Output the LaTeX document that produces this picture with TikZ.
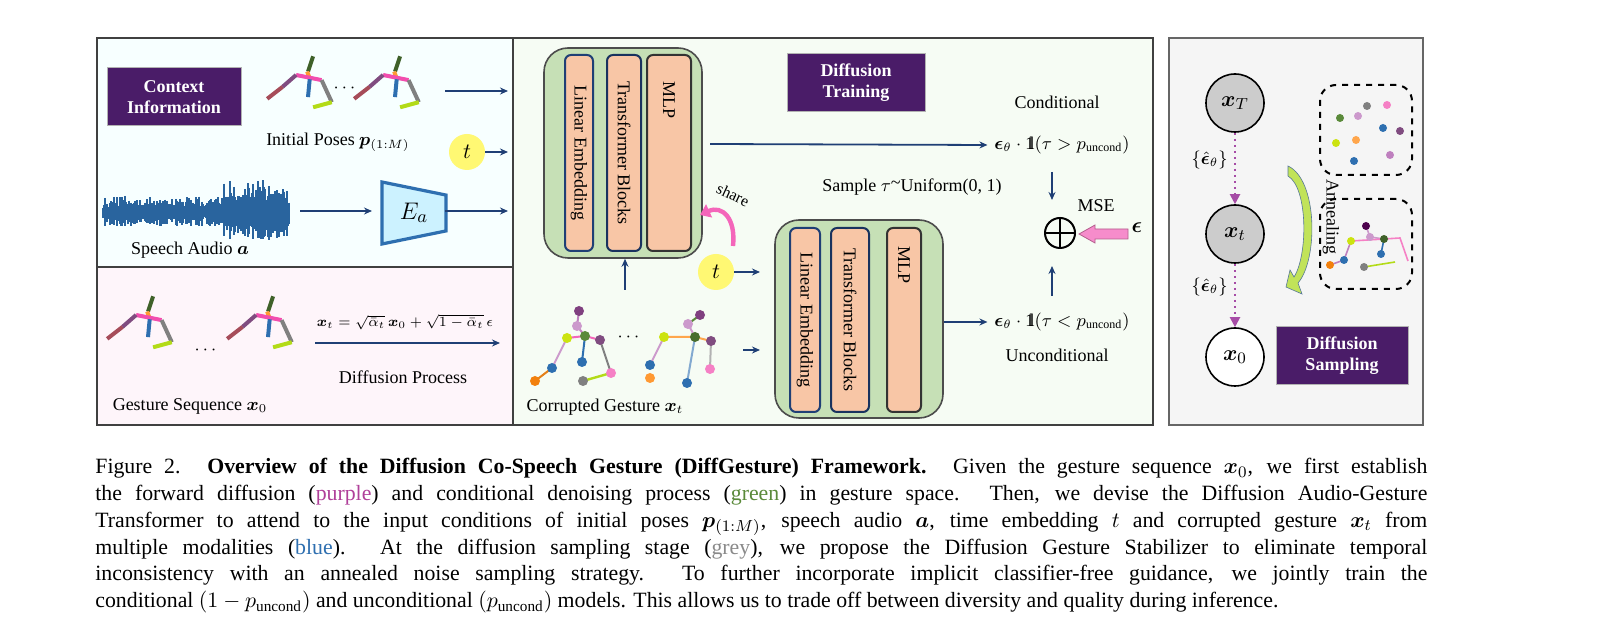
\documentclass[tikz,border=0pt]{standalone}
\usepackage{amsmath,amssymb,bm}
\usepackage{fontspec}
\setmainfont{Liberation Serif}
\usetikzlibrary{arrows.meta,shapes.geometric}
\newcommand{\myind}{\mathrm{1}\mkern-4.5mu\mathrm{l}}
\definecolor{ctxpurple}{HTML}{4A1C68}
\definecolor{salmon}{HTML}{F8C6A6}
\definecolor{blkgreen}{HTML}{C6E0B6}
\definecolor{navy}{HTML}{1F3F75}
\definecolor{cpurple}{HTML}{B0409A}
\definecolor{cgreen}{HTML}{5A8A3A}
\definecolor{cblue}{HTML}{2E6FB0}
\definecolor{cgrey}{HTML}{8A8A8A}
\tikzset{
 f/.style={font=\fontsize{9}{10.5}\selectfont},
 tag/.style={fill=ctxpurple,text=white,font=\fontsize{9}{10.5}\selectfont\bfseries,align=center,draw=gray!60,line width=0.5pt},
 arr/.style={draw=navy,line width=0.9pt,-{Stealth[length=4pt,width=3.5pt]}},
 bar/.style={draw=#1,line width=1pt,fill=salmon,rounded corners=3pt},
 blk/.style={draw=black!70,line width=0.8pt,fill=blkgreen,rounded corners=12pt},
 tcirc/.style={circle,fill=yellow!55,minimum size=18pt,inner sep=0pt,font=\fontsize{11}{12}\selectfont},
 xn/.style={circle,draw=black,line width=0.8pt,minimum size=29pt,inner sep=0pt,font=\fontsize{11}{12}\selectfont},
 sk/.style={line width=2pt},
 dot/.style={circle,fill=#1,inner sep=0pt,minimum size=5pt},
}
\newcommand{\mypose}[2]{%
 \begin{scope}[shift={(#1,#2)},scale=0.85]
  \draw[sk,cgreen!70!black] (0,-4)--(6,-22);
  \draw[sk,orange!80] (-1,-4)--(2,4);
  \draw[sk,magenta!70] (-14,0)--(16,6);
  \draw[sk,violet!40!gray] (-14,0)--(-30,14);
  \draw[sk,brown!60!violet] (-30,14)--(-48,28);
  \draw[sk,cblue] (2,5)--(0,26);
  \draw[sk,gray] (16,6)--(28,32);
  \draw[sk,yellow!70!green] (28,32)--(6,38);
 \end{scope}}
\begin{document}
\begin{tikzpicture}[x=0.5pt,y=-0.5pt]
\useasboundingbox (0,0) rectangle (1618,640);
\fill[white] (0,0) rectangle (1618,640);
% panels
\filldraw[fill=blue!5!cyan!3!white,draw=black!75,line width=0.6pt] (97,38) rectangle (513,267);
\filldraw[fill=magenta!4,draw=black!75,line width=0.6pt] (97,267) rectangle (513,425);
\filldraw[fill=yellow!10!green!4,draw=black!75,line width=0.6pt] (513,38) rectangle (1153,425);
\filldraw[fill=black!4,draw=black!60,line width=0.6pt] (1169,38) rectangle (1423,425);
% context
\node[tag,minimum width=67pt,minimum height=29pt] (ctx) at (174,97) {Context\\Information};
\mypose{308}{75}
\node[f] (dots1) at (346,88) {$\cdots$};
\mypose{395}{75}
\node[f] (ip) at (338,142) {Initial Poses $\bm{p}_{(1:M)}$};
\node[tcirc] (t1) at (467,152) {$t$};
\coordinate (a1s) at (445,91); \coordinate (a1e) at (508,91);
\draw[arr] (a1s)--(a1e);
\coordinate (a2e) at (508,152);
\draw[arr] (t1)--(a2e);
% waveform
\pgfmathsetseed{7}
\foreach \i in {0,...,186}{
 \pgfmathsetmacro{\xx}{103+\i}
 \pgfmathsetmacro{\env}{(\i>120)?(14+22*rnd):(6+12*rnd)}
 \pgfmathsetmacro{\up}{\env*(0.5+0.5*rnd)}
 \draw[cblue!90!black,line width=0.6pt] (\xx,212-\up) -- (\xx,212+\env*0.8);
}
\node[f] (sa) at (190,250) {Speech Audio $\bm{a}$};
\node[draw=cblue,line width=1.6pt,fill=blue!25!cyan!20!white,trapezium,shape border rotate=270,trapezium angle=70,minimum width=31pt,minimum height=32pt,trapezium stretches=true] (ea) at (414,213) {};
\node[font=\fontsize{13}{14}\selectfont] at (414,213) {$E_a$};
\coordinate (a3s) at (300,211); \coordinate (a3e) at (372,211);
\draw[arr] (a3s)--(a3e);
\coordinate (a4s) at (445,211); \coordinate (a4e) at (508,211);
\draw[arr] (a4s)--(a4e);
% bottom left
\mypose{148}{315}
\node[f] (dots2) at (207,350) {$\cdots$};
\mypose{268}{315}
\node[font=\fontsize{7.5}{9}\selectfont] (form) at (405,322) {$\bm{x}_t=\sqrt{\bar\alpha_t}\,\bm{x}_0+\sqrt{1-\bar\alpha_t}\,\epsilon$};
\coordinate (dps) at (315,343); \coordinate (dpe) at (500,343);
\draw[arr] (dps)--(dpe);
\node[f] (dp) at (403,377) {Diffusion Process};
\node[f] (gs) at (190,406) {Gesture Sequence $\bm{x}_0$};
% middle: blocks
\node[blk,minimum width=79pt,minimum height=105pt] (b1) at (623,153) {};
\node[bar=navy,minimum width=14pt,minimum height=98pt] (le1) at (579,153) {};
\node[bar=navy!80!black,minimum width=17pt,minimum height=98pt] (tb1) at (624,153) {};
\node[bar=black!80,minimum width=22pt,minimum height=98pt] (mlp1) at (669,153) {};
\node[f,rotate=-90] at (le1) {Linear Embedding};
\node[f,rotate=-90] at (tb1) {Transformer Blocks};
\node[f,rotate=-90] at (669,100) {MLP};
\node[blk,minimum width=84pt,minimum height=99pt] (b2) at (859,319) {};
\node[bar=navy,minimum width=15pt,minimum height=92pt] (le2) at (805,320) {};
\node[bar=navy!80!black,minimum width=19pt,minimum height=92pt] (tb2) at (850,320) {};
\node[bar=black!80,minimum width=17pt,minimum height=92pt] (mlp2) at (904,320) {};
\node[f,rotate=-90] at (le2) {Linear Embedding};
\node[f,rotate=-90] at (tb2) {Transformer Blocks};
\node[f,rotate=-90] at (904,265) {MLP};
\node[tag,minimum width=69pt,minimum height=29pt] (dt) at (856,83) {Diffusion\\Training};
% right of middle
\node[f] (cond) at (1057,102) {Conditional};
\node[f] (ec) at (1062,145) {$\bm{\epsilon}_\theta\cdot\myind(\tau>p_{\mathrm{uncond}})$};
\coordinate (cs) at (710,144);
\draw[arr] (cs)--(ec.west);
\node[f] (samp) at (912,187) {Sample $\tau$\raisebox{0.3ex}{\char`\~}Uniform(0, 1)};
\node[circle,draw=black,line width=1pt,minimum size=15pt,inner sep=0pt] (plus) at (1060,233) {};
\draw[line width=1pt] (plus.north)--(plus.south) (plus.west)--(plus.east);
\coordinate (d1) at (1052,172); \coordinate (d1e) at (1052,200);
\draw[arr] (d1)--(d1e);
\node[f] (mse) at (1096,206) {MSE};
\node[font=\fontsize{11}{12}\selectfont] (eps) at (1137,228) {$\bm{\epsilon}$};
\draw[draw=magenta!60!black!80,fill=magenta!45,line width=0.4pt] (1128,229)--(1095,229)--(1095,225)--(1079,234)--(1095,243)--(1095,239)--(1128,239)--cycle;
\node[f] (eu) at (1062,322) {$\bm{\epsilon}_\theta\cdot\myind(\tau<p_{\mathrm{uncond}})$};
\node[f] (unc) at (1057,355) {Unconditional};
\coordinate (u1) at (1052,296); \coordinate (u1e) at (1052,266);
\draw[arr] (u1)--(u1e);
\draw[arr] (b2.east |- eu) -- (eu.west);
% share
\draw[magenta!60,line width=2.2pt,-{Triangle[length=5pt,width=7pt]}] (733,246) .. controls (736,218) and (722,205) .. (700,215);
\node[font=\fontsize{8}{9}\selectfont,rotate=-25] (sh) at (733,195) {share};
\node[tcirc] (t2) at (716,272) {$t$};
\coordinate (t2e) at (760,272);
\draw[arr] (t2)--(t2e);
% corrupted gestures
\begin{scope}
 \coordinate (p1) at (579,311); \coordinate (p2) at (577,326); \coordinate (p3) at (585,336);
 \coordinate (p4) at (567,338); \coordinate (p5) at (600,340); \coordinate (p6) at (552,368);
 \coordinate (p7) at (535,381); \coordinate (p8) at (582,362); \coordinate (p9) at (583,381); \coordinate (p10) at (611,373);
 \draw[line width=1pt,violet!50] (p1)--(p2)--(p3);
 \draw[line width=1pt,magenta!60] (p4)--(p3)--(p5);
 \draw[line width=1pt,violet!40] (p4)--(p6);
 \draw[line width=1pt,orange!60!brown] (p6)--(p7);
 \draw[line width=1pt,cblue] (p3)--(p8);
 \draw[line width=1pt,gray] (p5)--(p10);
 \draw[line width=1.2pt,yellow!70!green] (p9)--(p10);
 \node[dot=violet!50!gray] at (p1) {}; \node[dot=violet!40] at (p2) {}; \node[dot=cgreen] at (p3) {};
 \node[dot=yellow!80!green] at (p4) {}; \node[dot=violet!40!gray] at (p5) {}; \node[dot=cblue] at (p6) {};
 \node[dot=orange!80!brown] at (p7) {}; \node[dot=cblue] at (p8) {}; \node[dot=gray] at (p9) {}; \node[dot=magenta!50] at (p10) {};
 \coordinate (q1) at (700,315); \coordinate (q2) at (688,324); \coordinate (q3) at (695,337);
 \coordinate (q4) at (664,337); \coordinate (q5) at (711,341); \coordinate (q6) at (650,365);
 \coordinate (q7) at (650,378); \coordinate (q8) at (687,383); \coordinate (q9) at (710,369);
 \draw[line width=1pt,cgreen] (q1)--(q2);
 \draw[line width=1pt,violet!40] (q2)--(q3);
 \draw[line width=1pt,orange!70] (q4)--(q3)--(q5);
 \draw[line width=1pt,violet!40] (q4)--(q6);
 \draw[line width=1pt,cblue!60] (q3)--(q8);
 \draw[line width=1pt,gray!60] (q5)--(q9);
 \node[dot=violet!50!gray] at (q1) {}; \node[dot=violet!40] at (q2) {}; \node[dot=cgreen!80!black] at (q3) {};
 \node[dot=yellow!80!green] at (q4) {}; \node[dot=violet!40!gray] at (q5) {}; \node[dot=cblue] at (q6) {};
 \node[dot=orange!80] at (q7) {}; \node[dot=cblue] at (q8) {}; \node[dot=magenta!50] at (q9) {};
\end{scope}
\node[f] (dots3) at (630,337) {$\cdots$};
\coordinate (cg1) at (625,290);
\draw[arr] (cg1)--(b1.south -| cg1);
\coordinate (cg2s) at (743,350); \coordinate (cg2e) at (760,350);
\draw[arr] (cg2s)--(cg2e);
\node[f] (cg) at (605,407) {Corrupted Gesture $\bm{x}_t$};
% sampling panel
\node[xn,fill=black!20] (xT) at (1235,103) {$\bm{x}_T$};
\node[xn,fill=black!20] (xt) at (1235,234) {$\bm{x}_t$};
\node[xn,fill=white] (x0) at (1235,357) {$\bm{x}_0$};
\draw[violet!70,line width=1pt,dotted,-{Triangle[length=5pt,width=5pt]}] (xT)--(xt);
\draw[violet!70,line width=1pt,dotted,-{Triangle[length=5pt,width=5pt]}] (xt)--(x0);
\node[f,anchor=east,inner sep=1pt] (e1) at (1230,160) {$\{\hat{\bm{\epsilon}}_\theta\}$};
\node[f,anchor=east,inner sep=1pt] (e2) at (1230,287) {$\{\hat{\bm{\epsilon}}_\theta\}$};
\draw[fill=yellow!65!green!70!white,draw=cblue!50!gray,line width=0.3pt] (1288,166) .. controls (1318,180) and (1318,260) .. (1298,283) -- (1302,294) -- (1286,287) -- (1290,270) -- (1294,277) .. controls (1308,255) and (1308,188) .. (1288,176) -- cycle;
\node[f,rotate=-90] (ann) at (1331,217) {Annealing};
\node[draw=black,dashed,line width=1pt,rounded corners=8pt,minimum width=46pt,minimum height=45pt] (box1) at (1366,130) {};
\node[draw=black,dashed,line width=1pt,rounded corners=8pt,minimum width=46pt,minimum height=45pt] (box2) at (1366,244) {};
\foreach \p/\c in {{1340,118}/cgreen,{1358,116}/violet!40,{1367,106}/gray,{1383,128}/cblue,{1336,143}/yellow!80!green,{1356,140}/orange!70,{1400,131}/violet!40!gray,{1390,155}/violet!50,{1354,161}/cblue,{1387,105}/magenta!50}
 \node[dot=\c,minimum size=4pt] at (\p) {};
\begin{scope}
 \coordinate (r1) at (1366,226); \coordinate (r2) at (1370,237); \coordinate (r3) at (1384,239);
 \coordinate (r4) at (1351,241); \coordinate (r5) at (1344,260); \coordinate (r6) at (1330,265);
 \coordinate (r7) at (1381,254); \coordinate (r8) at (1364,267); \coordinate (r9) at (1400,238); \coordinate (r10) at (1408,261);
 \draw[line width=0.8pt,violet!40] (r1)--(r2)--(r3);
 \draw[line width=0.8pt,magenta!50] (r4)--(r3)--(r9)--(r10);
 \draw[line width=0.8pt,violet!50] (r4)--(r5)--(r6);
 \draw[line width=0.8pt,cblue] (r3)--(r7);
 \draw[line width=0.8pt,yellow!70!green] (r8)--(1395,262);
 \node[dot=violet!60!black,minimum size=4pt] at (r1) {}; \node[dot=violet!40,minimum size=4pt] at (r2) {};
 \node[dot=cgreen!70!black,minimum size=4pt] at (r3) {}; \node[dot=yellow!80!green,minimum size=4pt] at (r4) {};
 \node[dot=cblue,minimum size=4pt] at (r5) {}; \node[dot=orange!80!brown,minimum size=4pt] at (r6) {};
 \node[dot=cblue,minimum size=4pt] at (r7) {}; \node[dot=gray,minimum size=4pt] at (r8) {};
\end{scope}
\node[tag,minimum width=66pt,minimum height=29pt] (ds) at (1342,356) {Diffusion\\Sampling};
% caption
\node[anchor=north west,inner sep=0pt] (cap) at (95,458) {\parbox{666pt}{\fontsize{10.9}{13.4}\selectfont
Figure 2. \textbf{Overview of the Diffusion Co-Speech Gesture (DiffGesture) Framework.} Given the gesture sequence $\bm{x}_0$, we first establish\linebreak
the forward diffusion ({\color{cpurple}purple}) and conditional denoising process ({\color{cgreen}green}) in gesture space. Then, we devise the Diffusion Audio-Gesture\linebreak
Transformer to attend to the input conditions of initial poses $\bm{p}_{(1:M)}$, speech audio $\bm{a}$, time embedding $t$ and corrupted gesture $\bm{x}_t$ from\linebreak
multiple modalities ({\color{cblue}blue}). At the diffusion sampling stage ({\color{cgrey}grey}), we propose the Diffusion Gesture Stabilizer to eliminate temporal\linebreak
inconsistency with an annealed noise sampling strategy. To further incorporate implicit classifier-free guidance, we jointly train the\linebreak
conditional $(1-p_{\mathrm{uncond}})$ and unconditional $(p_{\mathrm{uncond}})$ models. This allows us to trade off between diversity and quality during inference.}};
\end{tikzpicture}
\end{document}
